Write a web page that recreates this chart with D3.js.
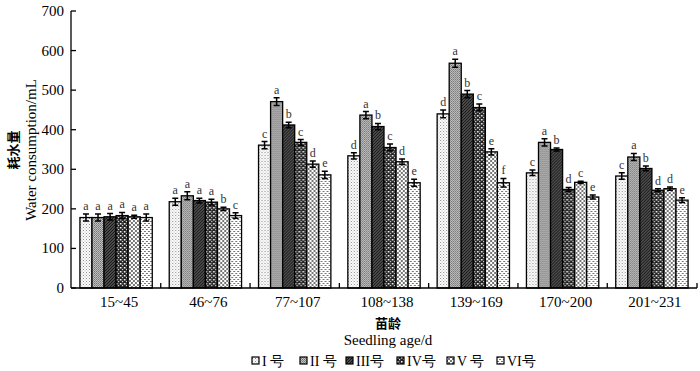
<!DOCTYPE html>
<html>
<head>
<meta charset="utf-8">
<script src="https://cdn.jsdelivr.net/npm/d3@7"></script>
<style>
  html, body { margin: 0; padding: 0; background: #fff; overflow: hidden; }
  svg { display: block; }
  svg text { font-family: "Liberation Serif", "DejaVu Serif", serif; }
  .cjk { font-family: "Noto Sans CJK SC", sans-serif; font-weight: bold; }
</style>
</head>
<body>
<div id="plot"></div>
<script>
// chart data
const categories = ["15~45", "46~76", "77~107", "108~138", "139~169", "170~200", "201~231"];
const seriesNames = ["I 号", "II 号", "III号", "IV号", "V 号", "VI号"];
const valuesI   = [178, 218, 361, 334, 440, 291, 283];
const valuesII  = [178, 233, 471, 437, 568, 368, 331];
const valuesIII = [180, 221, 412, 408, 490, 350, 302];
const valuesIV  = [183, 217, 368, 355, 456, 249, 247];
const valuesV   = [180, 200, 313, 319, 344, 267, 251];
const valuesVI  = [178, 183, 286, 266, 266, 230, 222];
const errorsI   = [9, 9, 9, 8, 10, 7, 8];
const errorsII  = [9, 10, 10, 9, 10, 9, 9];
const errorsIII = [8, 6, 7, 8, 9, 4, 6];
const errorsIV  = [8, 7, 7, 9, 9, 5, 4];
const errorsV   = [4, 4, 8, 7, 8, 3, 4];
const errorsVI  = [9, 7, 9, 9, 11, 5, 6];
const lettersI   = ["a", "a", "c", "d", "d", "c", "c"];
const lettersII  = ["a", "a", "a", "a", "a", "a", "a"];
const lettersIII = ["a", "a", "b", "b", "b", "b", "b"];
const lettersIV  = ["a", "a", "c", "c", "c", "d", "d"];
const lettersV   = ["a", "b", "d", "d", "e", "c", "d"];
const lettersVI  = ["a", "c", "e", "e", "f", "e", "e"];
const yTicks = [0, 100, 200, 300, 400, 500, 600, 700];

const values = [valuesI, valuesII, valuesIII, valuesIV, valuesV, valuesVI];
const errors = [errorsI, errorsII, errorsIII, errorsIV, errorsV, errorsVI];
const letters = [lettersI, lettersII, lettersIII, lettersIV, lettersV, lettersVI];

const width = 700, height = 371;
const margin = { top: 11, right: 3, bottom: 83, left: 71 };
const innerWidth = width - margin.left - margin.right;
const innerHeight = height - margin.top - margin.bottom;

const root = d3.select("#plot").append("svg")
    .attr("width", width)
    .attr("height", height);

// fill patterns for the six series
const defs = root.append("defs");
function pattern(id, size, bg, draw) {
    const p = defs.append("pattern")
        .attr("id", id)
        .attr("patternUnits", "userSpaceOnUse")
        .attr("width", size).attr("height", size);
    p.append("rect").attr("width", size).attr("height", size).attr("fill", bg);
    draw(p);
}
// I: fine dots
pattern("p0", 3, "#fff", p => {
    p.append("rect").attr("x", 0).attr("y", 0).attr("width", 1).attr("height", 1).attr("fill", "#888");
    p.append("rect").attr("x", 1.5).attr("y", 1.5).attr("width", 1).attr("height", 1).attr("fill", "#aaa");
});
// II: medium gray fine grain
pattern("p1", 2, "#c4c4c4", p => {
    p.append("rect").attr("width", 1).attr("height", 1).attr("fill", "#707070");
    p.append("rect").attr("x", 1).attr("y", 1).attr("width", 1).attr("height", 1).attr("fill", "#888");
});
// III: dark diagonal hatch
pattern("p2", 3, "#666", p => {
    p.append("path").attr("d", "M-1,1 L1,-1 M0,3 L3,0 M2,4 L4,2")
        .attr("stroke", "#111").attr("stroke-width", 1.2);
});
// IV: dark confetti
pattern("p3", 4, "#222", p => {
    p.append("rect").attr("x", 0).attr("y", 0).attr("width", 1.5).attr("height", 1.5).attr("fill", "#fff");
    p.append("rect").attr("x", 2).attr("y", 2).attr("width", 1.2).attr("height", 1.2).attr("fill", "#ddd");
    p.append("rect").attr("x", 2.5).attr("y", 0.5).attr("width", 0.8).attr("height", 0.8).attr("fill", "#999");
});
// V: diamond crosshatch
pattern("p4", 4, "#fff", p => {
    p.append("path").attr("d", "M0,0 L4,4 M4,0 L0,4")
        .attr("stroke", "#777").attr("stroke-width", 1);
});
// VI: small horizontal dashes
pattern("p5", 4, "#fff", p => {
    p.append("rect").attr("x", 0).attr("y", 0).attr("width", 2).attr("height", 1).attr("fill", "#777");
    p.append("rect").attr("x", 2).attr("y", 2).attr("width", 2).attr("height", 1).attr("fill", "#777");
});

const svg = root.append("g")
    .attr("transform", `translate(${margin.left},${margin.top})`);

const x = d3.scaleBand()
    .domain(categories)
    .range([0, innerWidth])
    .paddingInner(0.19)
    .paddingOuter(0.1);

const xSub = d3.scaleBand()
    .domain(d3.range(6))
    .range([0, x.bandwidth()]);

const y = d3.scaleLinear()
    .domain([0, 700])
    .range([innerHeight, 0]);

// bars
const groups = svg.selectAll(".group")
    .data(categories)
    .enter()
    .append("g")
    .attr("transform", d => `translate(${x(d)},0)`);

groups.each(function (cat, ci) {
    const g = d3.select(this);
    const rows = d3.range(6).map(s => ({
        s: s, v: values[s][ci], e: errors[s][ci], l: letters[s][ci]
    }));

    g.selectAll("rect")
        .data(rows)
        .enter()
        .append("rect")
        .attr("x", d => xSub(d.s))
        .attr("y", d => y(d.v))
        .attr("width", xSub.bandwidth())
        .attr("height", d => innerHeight - y(d.v))
        .attr("fill", d => `url(#p${d.s})`)
        .attr("stroke", "#000")
        .attr("stroke-width", 1.3);

    // error bars
    const cx = d => xSub(d.s) + xSub.bandwidth() / 2;
    g.selectAll(".err")
        .data(rows)
        .enter()
        .append("path")
        .attr("d", d => {
            const x0 = cx(d), t = y(d.v + d.e), b = y(d.v - d.e);
            return `M${x0 - 3},${t}H${x0 + 3}M${x0},${t}V${b}M${x0 - 3},${b}H${x0 + 3}`;
        })
        .attr("stroke", "#000")
        .attr("stroke-width", 1.5)
        .attr("fill", "none");

    // significance letters
    g.selectAll(".sig")
        .data(rows)
        .enter()
        .append("text")
        .attr("x", cx)
        .attr("y", d => y(d.v + d.e) - 4)
        .attr("text-anchor", "middle")
        .style("font-size", "12px")
        .style("fill", "#333")
        .text(d => d.l);
});

// y axis
svg.append("line")
    .attr("x1", 0).attr("x2", 0)
    .attr("y1", 0).attr("y2", innerHeight)
    .attr("stroke", "#000").attr("stroke-width", 1.3);
svg.selectAll(".ytick")
    .data(yTicks)
    .enter()
    .append("line")
    .attr("x1", 0).attr("x2", 5)
    .attr("y1", d => y(d)).attr("y2", d => y(d))
    .attr("stroke", "#000").attr("stroke-width", 1.3);
svg.selectAll(".ylabel")
    .data(yTicks)
    .enter()
    .append("text")
    .attr("x", -7)
    .attr("y", d => y(d) + 5)
    .attr("text-anchor", "end")
    .style("font-size", "15px")
    .text(d => d);

// x axis
svg.append("line")
    .attr("x1", 0).attr("x2", innerWidth)
    .attr("y1", innerHeight).attr("y2", innerHeight)
    .attr("stroke", "#000").attr("stroke-width", 1.3);
const step = x.step();
const boundaries = categories.map((c, i) => x(c) + x.bandwidth() + step * x.paddingInner() / 2).slice(0, -1);
boundaries.push(innerWidth);
svg.selectAll(".xtick")
    .data(boundaries)
    .enter()
    .append("line")
    .attr("x1", d => d).attr("x2", d => d)
    .attr("y1", innerHeight).attr("y2", innerHeight - 5)
    .attr("stroke", "#000").attr("stroke-width", 1.3);
svg.selectAll(".xlabel")
    .data(categories)
    .enter()
    .append("text")
    .attr("x", d => x(d) + x.bandwidth() / 2 + 3)
    .attr("y", innerHeight + 19)
    .attr("text-anchor", "middle")
    .style("font-size", "15px")
    .text(d => d);

// axis titles
root.append("text")
    .attr("class", "cjk")
    .attr("x", 388).attr("y", 328)
    .attr("text-anchor", "middle")
    .style("font-size", "13px")
    .text("苗龄");
root.append("text")
    .attr("x", 388).attr("y", 345)
    .attr("text-anchor", "middle")
    .style("font-size", "15px")
    .text("Seedling age/d");
root.append("text")
    .attr("class", "cjk")
    .attr("transform", "translate(18,150) rotate(-90)")
    .attr("text-anchor", "middle")
    .style("font-size", "13px")
    .text("耗水量");
root.append("text")
    .attr("transform", "translate(36,150) rotate(-90)")
    .attr("text-anchor", "middle")
    .style("font-size", "15px")
    .text("Water consumption/mL");

// legend
const legendX = [252, 300, 346, 397, 447, 497];
const legend = root.selectAll(".legend")
    .data(seriesNames)
    .enter()
    .append("g")
    .attr("transform", (d, i) => `translate(${legendX[i]},361)`);
legend.append("rect")
    .attr("x", 0).attr("y", -4)
    .attr("width", 7).attr("height", 7)
    .attr("fill", (d, i) => `url(#p${i})`)
    .attr("stroke", "#000").attr("stroke-width", 1.2);
legend.append("text")
    .attr("x", 10).attr("y", 5)
    .style("font-size", "14px")
    .text(d => d);
</script>
</body>
</html>
